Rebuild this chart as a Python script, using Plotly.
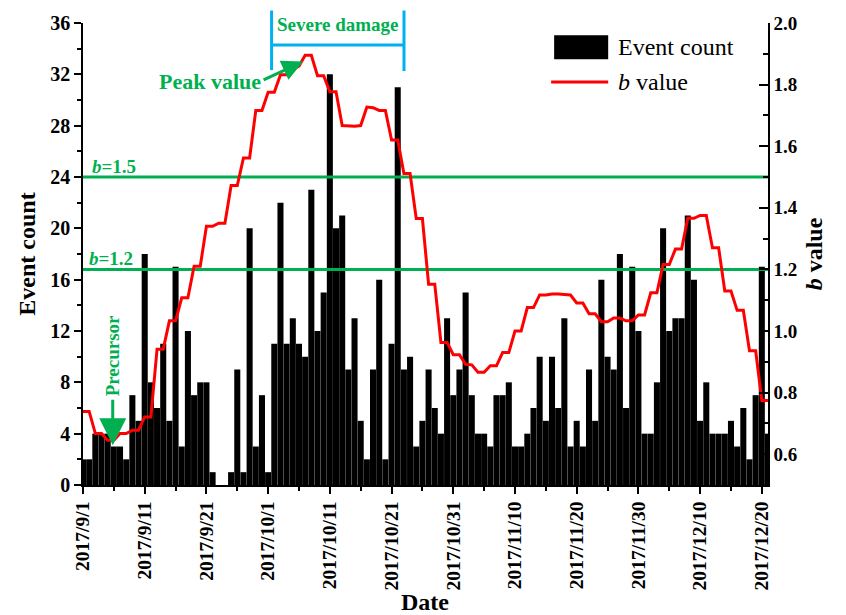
import pandas as pd
import plotly.graph_objects as go

# ---------------- data ----------------
start_date = "2017-09-01"
end_date = "2017-12-21"
dates = pd.date_range(start_date, end_date, freq="D")

event_count = [2, 2, 4, 4, 4, 3, 3, 2, 7, 5,
               18, 8, 6, 11, 5, 17, 3, 12, 7, 8,
               8, 1, 0, 0, 1, 9, 1, 20, 3, 7,
               1, 11, 22, 11, 13, 11, 10, 23, 12, 15,
               32, 20, 21, 9, 13, 5, 2, 9, 16, 2,
               11, 31, 9, 10, 3, 5, 9, 6, 4, 13,
               7, 9, 15, 7, 4, 4, 3, 7, 7, 8,
               3, 3, 4, 6, 10, 5, 10, 6, 13, 3,
               5, 3, 9, 5, 16, 10, 9, 18, 6, 17,
               12, 4, 4, 8, 20, 12, 13, 13, 21, 16,
               5, 8, 4, 4, 4, 5, 3, 6, 2, 7, 17, 4]

b_value = [0.739, 0.739, 0.667, 0.667, 0.645, 0.645, 0.667, 0.667, 0.678, 0.678,
           0.721, 0.721, 0.941, 0.941, 1.033, 1.033, 1.108, 1.108, 1.210, 1.210,
           1.340, 1.340, 1.350, 1.350, 1.472, 1.472, 1.562, 1.562, 1.716, 1.716,
           1.775, 1.775, 1.832, 1.832, 1.850, 1.860, 1.895, 1.895, 1.829, 1.829,
           1.777, 1.777, 1.667, 1.665, 1.665, 1.667, 1.727, 1.725, 1.716, 1.716,
           1.620, 1.620, 1.511, 1.511, 1.365, 1.365, 1.152, 1.152, 0.963, 0.963,
           0.923, 0.923, 0.892, 0.890, 0.866, 0.866, 0.887, 0.887, 0.930, 0.930,
           1.000, 1.000, 1.076, 1.076, 1.117, 1.117, 1.120, 1.120, 1.118, 1.117,
           1.091, 1.091, 1.056, 1.056, 1.030, 1.030, 1.042, 1.042, 1.033, 1.033,
           1.052, 1.052, 1.124, 1.124, 1.216, 1.216, 1.266, 1.266, 1.366, 1.366,
           1.375, 1.375, 1.270, 1.270, 1.130, 1.130, 1.067, 1.067, 0.936, 0.936,
           0.774, 0.774]

b_thresholds = [1.5, 1.2]
threshold_labels = ["<b><i>b</i>=1.5</b>", "<b><i>b</i>=1.2</b>"]

x_tick_labels = ["2017/9/1", "2017/9/11", "2017/9/21", "2017/10/1", "2017/10/11",
                 "2017/10/21", "2017/10/31", "2017/11/10", "2017/11/20",
                 "2017/11/30", "2017/12/10", "2017/12/20"]
x_tick_dates = pd.to_datetime(x_tick_labels, format="%Y/%m/%d")
x_minor_dates = x_tick_dates + pd.Timedelta(days=5)

y_left_ticks = list(range(0, 37, 4))
y_right_ticks = [0.6, 0.8, 1.0, 1.2, 1.4, 1.6, 1.8, 2.0]

# ---------------- style ----------------
FONT = "Liberation Serif"
GREEN = "#00B050"
BLUE = "#00B0F0"
RED = "#FF0000"

fig = go.Figure()

fig.add_trace(go.Bar(x=dates, y=event_count, name="Event count",
                     marker=dict(color="black", line=dict(width=0)),
                     showlegend=False))

for thr in b_thresholds:
    fig.add_trace(go.Scatter(x=[dates[0], dates[-1]], y=[thr, thr], yaxis="y2",
                             mode="lines", line=dict(color=GREEN, width=3),
                             showlegend=False, hoverinfo="skip"))

fig.add_trace(go.Scatter(x=dates, y=b_value, yaxis="y2", mode="lines",
                         name="b value", line=dict(color=RED, width=3),
                         showlegend=False))

tickfont = dict(family=FONT, size=20, color="black", weight="bold")

fig.update_layout(
    width=846, height=615,
    margin=dict(l=83, r=78, t=21, b=130),
    paper_bgcolor="white", plot_bgcolor="white",
    bargap=0.02,
    showlegend=False,
    xaxis=dict(
        type="date", range=[dates[0], dates[-1]],
        tickmode="array", tickvals=x_tick_dates, ticktext=x_tick_labels,
        tickangle=-90, tickfont=dict(family=FONT, size=19.5, color="black", weight="bold"),
        ticks="outside", ticklen=7, tickwidth=1.5, tickcolor="black",
        minor=dict(tickmode="array", tickvals=x_minor_dates, ticks="outside",
                   ticklen=4, tickwidth=1.5, tickcolor="black"),
        showline=True, linecolor="black", linewidth=1.5,
        showgrid=False, zeroline=False,
    ),
    yaxis=dict(
        range=[0, 36], tickmode="array", tickvals=y_left_ticks,
        tickfont=tickfont,
        ticks="outside", ticklen=7, tickwidth=1.5, tickcolor="black",
        minor=dict(dtick=2, tick0=0, ticks="outside", ticklen=4, tickwidth=1.5,
                   tickcolor="black"),
        showline=True, linecolor="black", linewidth=1.5,
        showgrid=False, zeroline=False,
        title=dict(text="<b>Event count</b>", font=dict(family=FONT, size=24, color="black"),
                   standoff=8),
    ),
    yaxis2=dict(
        overlaying="y", side="right", range=[0.5, 2.0],
        tickmode="array", tickvals=y_right_ticks,
        ticktext=[f"{v:.1f}" for v in y_right_ticks],
        tickfont=dict(family=FONT, size=19, color="black", weight="bold"),
        ticks="inside", ticklen=9, tickwidth=1.5, tickcolor="black",
        minor=dict(dtick=0.1, tick0=0.5, ticks="inside", ticklen=5, tickwidth=1.5,
                   tickcolor="black"),
        showline=True, linecolor="black", linewidth=1.5,
        showgrid=False, zeroline=False,
        title=dict(text="<b><i>b</i> value</b>", font=dict(family=FONT, size=24, color="black"),
                   standoff=8),
    ),
)

# ---------------- annotations ----------------
ann = []
# x-axis title
ann.append(dict(text="<b>Date</b>", x=0.4993, y=-0.254, xref="paper", yref="paper",
                showarrow=False, font=dict(family=FONT, size=24, color="black"),
                xanchor="center", yanchor="middle"))
# threshold labels
ann.append(dict(text=threshold_labels[0], x=0.045, y=0.689, xref="paper", yref="paper",
                showarrow=False, font=dict(family=FONT, size=19, color=GREEN),
                xanchor="center", yanchor="middle"))
ann.append(dict(text=threshold_labels[1], x=0.041, y=0.491, xref="paper", yref="paper",
                showarrow=False, font=dict(family=FONT, size=19, color=GREEN),
                xanchor="center", yanchor="middle"))
# Severe damage
ann.append(dict(text="<b>Severe damage</b>", x=0.372, y=0.9957, xref="paper", yref="paper",
                showarrow=False, font=dict(family=FONT, size=19, color=GREEN),
                xanchor="center", yanchor="middle"))
# Peak value text
ann.append(dict(text="<b>Peak value</b>", x=0.1851, y=0.8723, xref="paper", yref="paper",
                showarrow=False, font=dict(family=FONT, size=22, color=GREEN),
                xanchor="center", yanchor="middle"))
# Peak arrow
peak_idx = max(range(len(b_value)), key=lambda i: b_value[i])
ann.append(dict(text="", x=dates[peak_idx] - pd.Timedelta(hours=8), y=b_value[peak_idx] - 0.02,
                xref="x", yref="y2", showarrow=True, ax=-41, ay=19,
                arrowcolor=GREEN, arrowwidth=3, arrowhead=2, arrowsize=1.4, standoff=0))
# Precursor text and arrow
ann.append(dict(text="<b>Precursor</b>", x=0.0434, y=0.28, xref="paper", yref="paper",
                showarrow=False, textangle=-90, font=dict(family=FONT, size=19, color=GREEN),
                xanchor="center", yanchor="middle"))
ann.append(dict(text="", x=0.0434, y=0.0862, xref="paper", yref="paper",
                showarrow=True, ax=0, ay=-47,
                arrowcolor=GREEN, arrowwidth=3, arrowhead=2, arrowsize=1.8, standoff=0))
# Legend text
ann.append(dict(text="Event count", x=0.7779, y=0.9477, xref="paper", yref="paper",
                showarrow=False, font=dict(family=FONT, size=24, color="black"),
                xanchor="left", yanchor="middle"))
ann.append(dict(text="<i>b</i> value", x=0.7779, y=0.8723, xref="paper", yref="paper",
                showarrow=False, font=dict(family=FONT, size=24, color="black"),
                xanchor="left", yanchor="middle"))
fig.update_layout(annotations=ann)

# ---------------- shapes (bracket + legend keys) ----------------
shapes = []
shapes.append(dict(type="line", xref="paper", yref="paper", x0=0.2753, x1=0.2753,
                   y0=0.898, y1=1.027, line=dict(color=BLUE, width=3)))
shapes.append(dict(type="line", xref="paper", yref="paper", x0=0.4686, x1=0.4686,
                   y0=0.896, y1=1.027, line=dict(color=BLUE, width=3)))
shapes.append(dict(type="line", xref="paper", yref="paper", x0=0.2753, x1=0.4686,
                   y0=0.9526, y1=0.9526, line=dict(color=BLUE, width=3)))
shapes.append(dict(type="rect", xref="paper", yref="paper", x0=0.6878, x1=0.7667,
                   y0=0.9218, y1=0.9735, fillcolor="black", line=dict(width=0)))
shapes.append(dict(type="line", xref="paper", yref="paper", x0=0.6834, x1=0.7667,
                   y0=0.8723, y1=0.8723, line=dict(color=RED, width=3)))
fig.update_layout(shapes=shapes)

fig.write_html("out.html")
